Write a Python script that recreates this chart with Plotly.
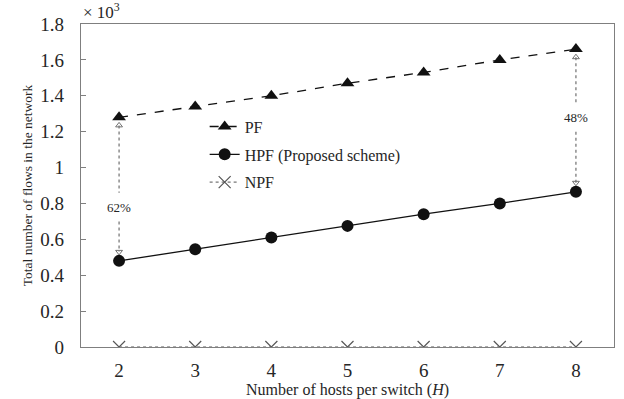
import plotly.graph_objects as go

hosts = [2, 3, 4, 5, 6, 7, 8]
pf = [1.28, 1.34, 1.40, 1.47, 1.53, 1.60, 1.66]
hpf = [0.48, 0.545, 0.61, 0.675, 0.74, 0.80, 0.865]
npf = [0, 0, 0, 0, 0, 0, 0]
y_ticks = [0, 0.2, 0.4, 0.6, 0.8, 1.0, 1.2, 1.4, 1.6, 1.8]
y_tick_labels = ["0", "0.2", "0.4", "0.6", "0.8", "1", "1.2", "1.4", "1.6", "1.8"]
gap_labels = ["62%", "48%"]

FONT = "Liberation Serif, Times New Roman, serif"
TXT = "#262626"
AX = "#7f7f7f"
ARR = "#707070"

fig = go.Figure()

fig.add_trace(go.Scatter(x=hosts, y=pf, name="PF", mode="lines+markers", legendgroup="a",
                         line=dict(color="#111", width=1.3, dash="dash"),
                         marker=dict(symbol="triangle-up", size=12, color="#111")))
fig.add_trace(go.Scatter(x=hosts, y=hpf, name="HPF (Proposed scheme)", mode="lines+markers",
                         legendgroup="b",
                         line=dict(color="#111", width=1.3),
                         marker=dict(symbol="circle", size=12, color="#111")))
fig.add_trace(go.Scatter(x=hosts, y=npf, name="NPF", mode="lines+markers", legendgroup="c",
                         line=dict(color="#555", width=1, dash="dot"),
                         marker=dict(symbol="x-thin-open", size=12,
                                     line=dict(color="#666", width=1.2))))

# dotted double arrows between PF and HPF at first and last host values
for idx, lab, ly in [(0, gap_labels[0], 0.78), (-1, gap_labels[1], 1.28)]:
    xv = hosts[idx]
    top = pf[idx] - 0.045
    bot = hpf[idx] + 0.05
    fig.add_shape(type="line", x0=xv, x1=xv, y0=top, y1=ly + 0.08,
                  line=dict(color=ARR, width=1.2, dash="dot"))
    fig.add_shape(type="line", x0=xv, x1=xv, y0=ly - 0.08, y1=bot,
                  line=dict(color=ARR, width=1.2, dash="dot"))
    fig.add_trace(go.Scatter(x=[xv, xv], y=[top, bot], mode="markers", showlegend=False,
                             name="arrow", hoverinfo="skip",
                             marker=dict(symbol=["triangle-up-open", "triangle-down-open"],
                                         size=6, color=ARR, line=dict(color=ARR, width=1))))
    fig.add_annotation(x=xv, y=ly, text=lab, showarrow=False,
                       font=dict(family=FONT, size=13, color=TXT))

fig.add_annotation(xref="paper", yref="paper", x=0, y=1.0, yanchor="bottom",
                   xanchor="left", text="× 10<sup>3</sup>", showarrow=False,
                   font=dict(family=FONT, size=17, color=TXT))

fig.update_layout(
    width=624, height=399,
    margin=dict(l=81, r=10, t=24, b=52),
    paper_bgcolor="white", plot_bgcolor="white",
    font=dict(family=FONT, color=TXT),
    showlegend=True,
    legend=dict(x=0.232, y=0.735, xanchor="left", yanchor="top",
                bgcolor="rgba(0,0,0,0)", font=dict(family=FONT, size=16, color=TXT),
                tracegroupgap=4),
    xaxis=dict(range=[1.5, 8.5], tickvals=hosts, ticks="", showgrid=False,
               automargin=False,
               zeroline=False, showline=True, mirror=True, linecolor=AX, linewidth=1.2,
               ticklabelstandoff=6,
               tickfont=dict(family=FONT, size=19, color=TXT),
               title=dict(text="Number of hosts per switch (<i>H</i>)", standoff=2,
                          font=dict(family=FONT, size=16, color=TXT))),
    yaxis=dict(range=[0, 1.8], tickvals=y_ticks, ticktext=y_tick_labels,
               ticks="inside", ticklen=5, tickcolor=AX, showgrid=False,
               automargin=False, ticklabelstandoff=12,
               zeroline=False, showline=True, mirror=True, linecolor=AX, linewidth=1.2,
               tickfont=dict(family=FONT, size=19, color=TXT),
               title=dict(text="Total number of flows in the network", standoff=4,
                          font=dict(family=FONT, size=13.5, color=TXT))),
)

fig.write_html("out.html")
